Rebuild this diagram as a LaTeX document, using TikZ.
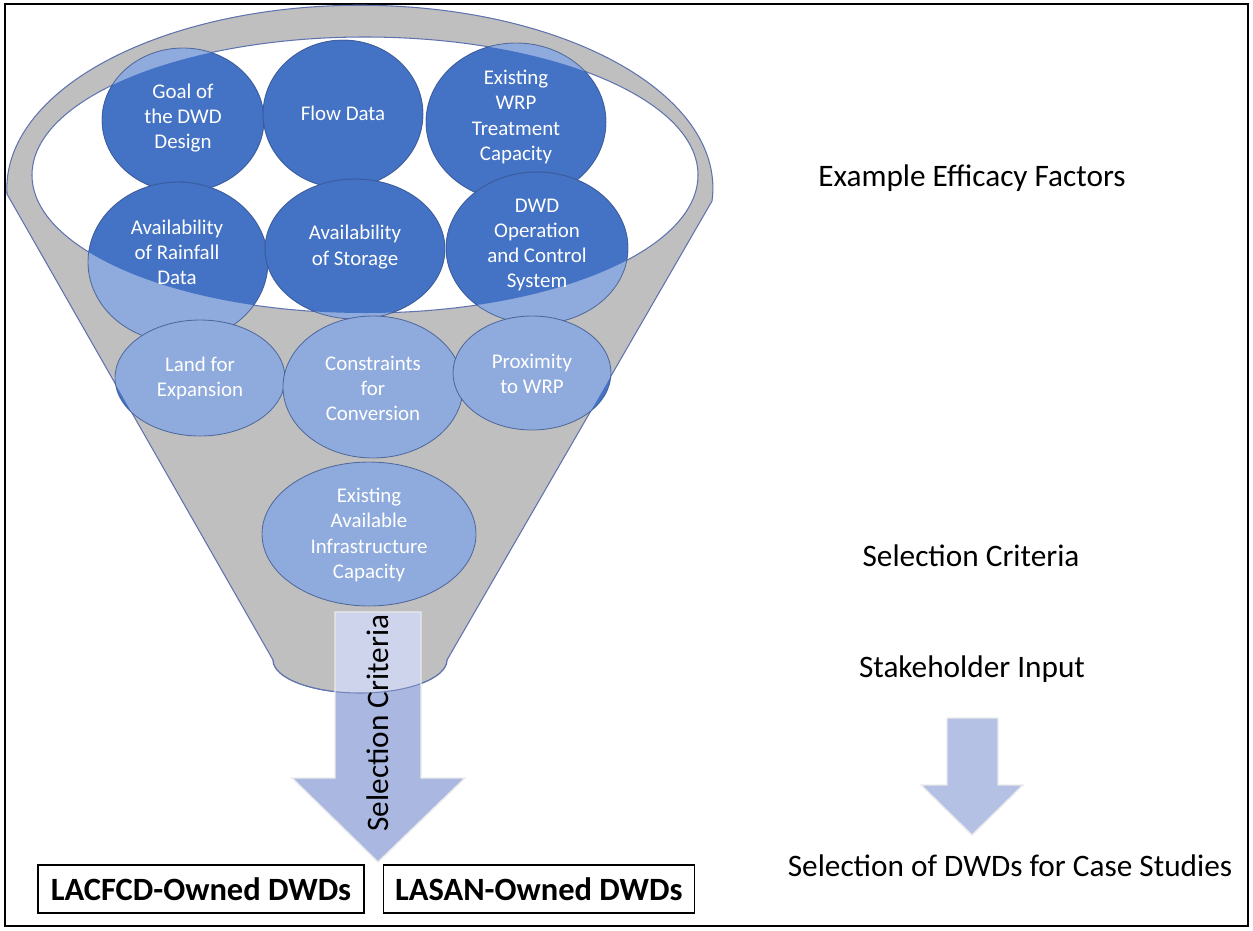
\documentclass[tikz,border=0pt]{standalone}
\usepackage{fontspec}
\setmainfont{Carlito}
\usepackage{tikz}
\usetikzlibrary{
	arrows.meta,
	calc,
	positioning,
	shapes.geometric
}

\definecolor{funnelgrey}{RGB}{191,191,191}
\definecolor{funneledge}{RGB}{96,115,175}
\definecolor{ovaldark}{RGB}{68,114,196}
\definecolor{ovallight}{RGB}{143,170,220}
\definecolor{ovaledge}{RGB}{45,70,125}
\definecolor{arrowblue}{RGB}{170,184,225}
\definecolor{arrowpale}{RGB}{205,212,236}
\definecolor{smallarrow}{RGB}{180,192,228}

\newcommand{\ovallist}{183/120/81/72, 343/114/80/74, 516/122/90/79,
	178/262/90/80, 355/249/90/70, 537/248/91/76,
	200/378/85/58, 373/387/90/71, 532/373/79/57, 369/534/107/72}
\newcommand{\funnelpath}{(7,194) -- (273,660)
	arc[start angle=180, end angle=0, x radius=87, y radius=33]
	-- (712,201) arc[start angle=364, end angle=178, x radius=353, y radius=183] -- cycle}
\newcommand{\mouthpath}{(365,175) ellipse[x radius=333, y radius=138]}
\newcommand{\criteriapath}{(335,612) -- (421,612) -- (421,778) -- (465,778)
	-- (378,862) -- (292,778) -- (335,778) -- cycle}

\tikzset{
	ovaltext/.style={text=white, align=center, inner sep=0pt,
		font=\fontsize{11.9}{14.3}\selectfont},
	sidetext/.style={inner sep=0pt, font=\fontsize{17.8}{21}\selectfont},
	ownerbox/.style={draw, line width=0.8pt, fill=white, inner sep=0pt,
		minimum height=0.96cm, font=\bfseries\fontsize{18.5}{22}\selectfont}
}

\begin{document}
\begin{tikzpicture}[x=0.02cm, y=-0.02cm]
		\useasboundingbox (0,0) rectangle (1253,930);
		\draw[line width=1.2pt] (5,4) rectangle (1248,926);

		\fill[funnelgrey] \funnelpath;
		\fill[white] \mouthpath;
		\draw[funneledge, line width=0.6pt] \funnelpath;
		\draw[funneledge, line width=0.6pt] \mouthpath;

		\foreach \cx/\cy/\rx/\ry in \ovallist {
			\fill[ovaldark] (\cx,\cy) ellipse[x radius=\rx, y radius=\ry];
			\begin{scope}
				\clip \funnelpath;
				\fill[ovallight] (\cx,\cy) ellipse[x radius=\rx, y radius=\ry];
			\end{scope}
			\begin{scope}
				\clip \mouthpath;
				\fill[ovaldark] (\cx,\cy) ellipse[x radius=\rx, y radius=\ry];
			\end{scope}
			\draw[ovaledge, draw opacity=0.6, line width=0.5pt] (\cx,\cy) ellipse[x radius=\rx, y radius=\ry];
		}

		\node[ovaltext] (goal) at (183,118) {Goal of\\the DWD\\Design};
		\node[ovaltext] (flow) at (343,113) {Flow Data};
		\node[ovaltext] (wrp) at (516,117) {Existing\\WRP\\Treatment\\Capacity};
		\node[ovaltext] (rain) at (177,252) {Availability\\of Rainfall\\Data};
		\node[ovaltext] (storage) at (355,247) {Availability\\of Storage};
		\node[ovaltext] (control) at (537,245) {DWD\\Operation\\and Control\\System};
		\node[ovaltext] (land) at (200,378) {Land for\\Expansion};
		\node[ovaltext] (constraints) at (373,388) {Constraints\\for\\Conversion};
		\node[ovaltext] (proximity) at (532,374) {Proximity\\to WRP};
		\node[ovaltext] (infra) at (369,535) {Existing\\Available\\Infrastructure\\Capacity};

		\fill[arrowblue] \criteriapath;
		\begin{scope}
			\clip \funnelpath;
			\fill[arrowpale] \criteriapath;
		\end{scope}
		\draw[funneledge, line width=0.6pt, draw opacity=0.8] (273,660)
			arc[start angle=180, end angle=0, x radius=87, y radius=33];
		\draw[white!92!black, line width=0.8pt] \criteriapath;
		\node[sidetext, rotate=90] (criteriaarrow) at (378,723) {Selection Criteria};

		\fill[smallarrow] (947,718) -- (998,718) -- (998,785) -- (1023,785)
			-- (972,835) -- (921,785) -- (947,785) -- cycle;
		\draw[white!92!black, line width=0.8pt] (947,718) -- (998,718) -- (998,785)
			-- (1023,785) -- (972,835) -- (921,785) -- (947,785) -- cycle;

		\node[sidetext] (factors) at (972,178) {Example Efficacy Factors};
		\node[sidetext] (criteria) at (971,556) {Selection Criteria};
		\node[sidetext] (input) at (972,669) {Stakeholder Input};
		\node[sidetext] (cases) at (1010,866) {Selection of DWDs for Case Studies};

		\node[ownerbox, minimum width=6.52cm] (lacfcd) at (201,889) {LACFCD-Owned DWDs};
		\node[ownerbox, minimum width=6.22cm, right=0.36cm of lacfcd] (lasan) {LASAN-Owned DWDs};
	\end{tikzpicture}
\end{document}
